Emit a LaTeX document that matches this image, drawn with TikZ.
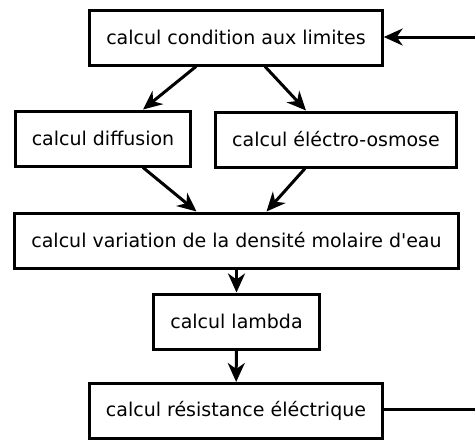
\documentclass[tikz,border=0pt]{standalone}
\usepackage{fontspec}
\setmainfont{DejaVu Sans}
\usetikzlibrary{arrows.meta}

\tikzset{
  calcbox/.style={draw, line width=3pt, inner xsep=16.5pt, minimum height=55pt, font=\fontsize{19}{22}\selectfont},
  flow/.style={->, line width=3pt}
}

\begin{document}
\begin{tikzpicture}[x=1pt,y=-1pt,>={Stealth[length=19pt,width=17pt,inset=6pt]}]
\useasboundingbox (0,0) rectangle (475,442);

% Boxes (placed manually)
\node[calcbox] (cond) at (236,37.5) {calcul condition aux limites};

\node[calcbox] (diff) at (103,138.5) {calcul diffusion};
\node[calcbox] (osm) at (336,139.5) {calcul éléctro-osmose};

\node[calcbox] (dens) at (236.5,240.5) {calcul variation de la densité molaire d\textquotesingle eau};
\node[calcbox] (lam) at (236.5,321.5) {calcul lambda};
\node[calcbox] (res) at (236,411) {calcul résistance éléctrique};

% Loop points (outside the page)
\coordinate (loopB) at (481,409);
\coordinate (loopT) at (481,37);

% Arrows
\draw[flow] ([xshift=-40pt]cond.south) -- ([xshift=40pt]diff.north);
\draw[flow] ([xshift=29pt]cond.south) -- ([xshift=-30pt]osm.north);

\draw[flow] ([xshift=40pt]diff.south) -- ([xshift=-40pt]dens.north);
\draw[flow] ([xshift=-31pt]osm.south) -- ([xshift=30pt]dens.north);

\draw[flow] (dens) -- (lam);
\draw[flow] (lam) -- (res);

% Feedback
\draw[flow] (res.east |- loopB) -- (loopB) -- (loopT) -- (cond.east |- loopT);

\end{tikzpicture}
\end{document}
